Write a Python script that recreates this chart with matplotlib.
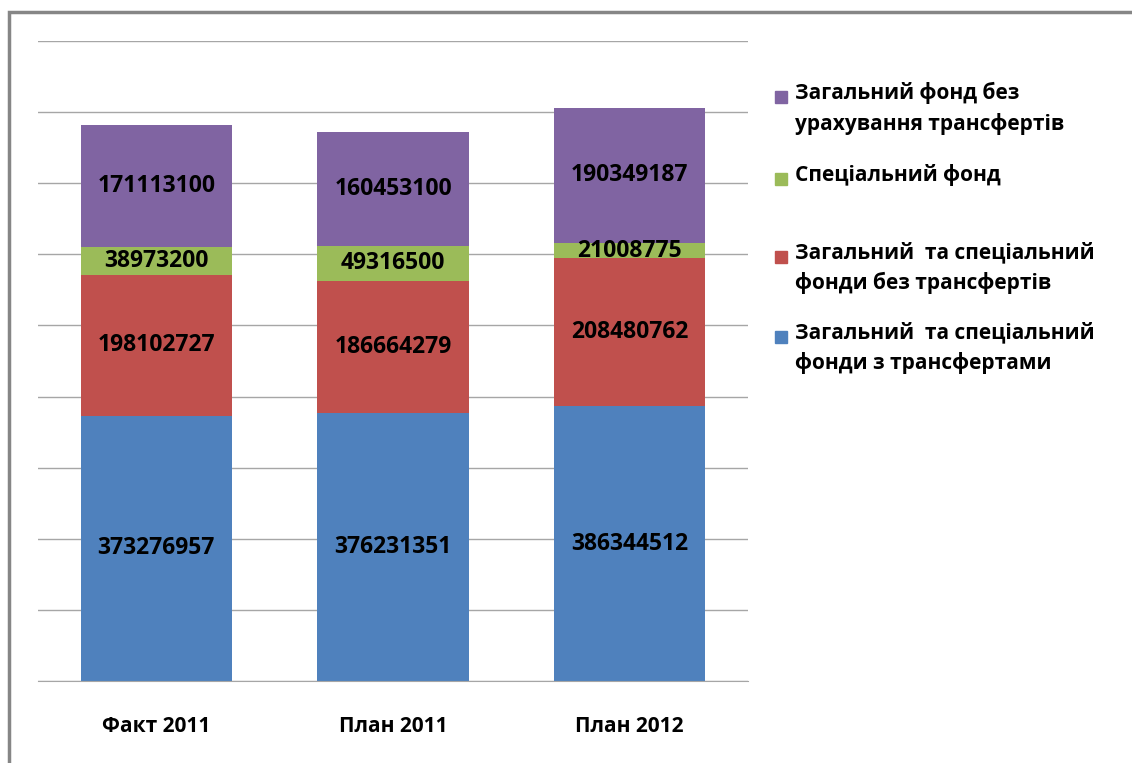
import numpy as np
import matplotlib
matplotlib.use("Agg")
import matplotlib.pyplot as plt
from matplotlib.patches import Rectangle

categories = ["Факт 2011", "План 2011", "План 2012"]
with_transfers = [373276957, 376231351, 386344512]
without_transfers = [198102727, 186664279, 208480762]
special_fund = [38973200, 49316500, 21008775]
general_fund = [171113100, 160453100, 190349187]

series = [with_transfers, without_transfers, special_fund, general_fund]
colors = ["#4f81bd", "#c0504d", "#9bbb59", "#8064a2"]
legend_labels = [
    "Загальний фонд без\nурахування трансфертів",
    "Спеціальний фонд",
    "Загальний  та спеціальний\nфонди без трансфертів",
    "Загальний  та спеціальний\nфонди з трансфертами",
]
legend_colors = ["#8064a2", "#9bbb59", "#c0504d", "#4f81bd"]

plt.rcParams['font.family'] = ['Open Sans', 'DejaVu Sans']

fig = plt.figure(figsize=(11.32, 7.63), dpi=100)
W, H = 1132, 763
ax = fig.add_axes([38 / W, 1 - 681 / H, 710 / W, 640 / H])

x = np.arange(len(categories))
bottom = np.zeros(len(categories))
for vals, c in zip(series, colors):
    vals = np.array(vals, dtype=float)
    ax.bar(x, vals, 0.64, bottom=bottom, color=c, zorder=2)
    for xi, b, v in zip(x, bottom, vals):
        ax.text(xi, b + v / 2, str(int(v)), ha="center", va="center",
                fontsize=16.5, fontweight="bold", color="black", zorder=3)
    bottom += vals

ax.set_xlim(-0.5, 2.5)
ax.set_ylim(0, 900000000)
ax.set_yticks(np.arange(0, 900000001, 100000000))
ax.yaxis.grid(True, color="#a6a6a6", lw=1, zorder=0)
ax.tick_params(axis="y", left=False, labelleft=False)
ax.tick_params(axis="x", bottom=False, pad=22)
ax.set_xticks(x)
ax.set_xticklabels(categories, fontsize=15, fontweight="bold")
for s in ["top", "right", "left"]:
    ax.spines[s].set_visible(False)
ax.spines["bottom"].set_color("#a6a6a6")

# chart border
fig.add_artist(Rectangle((9 / W, -0.1), 1.2, 1 - 12 / H + 0.1,
                         transform=fig.transFigure, fill=False,
                         edgecolor="#868686", lw=2.5))

# legend
legend_y = [97, 179, 257, 337]
for lab, c, yy in zip(legend_labels, legend_colors, legend_y):
    fig.add_artist(Rectangle((775 / W, 1 - (yy + 6) / H), 12 / W, 12 / H,
                             transform=fig.transFigure, color=c))
    fig.text(795 / W, 1 - (yy - 15) / H, lab, fontsize=15,
             fontweight="bold", va="top", ha="left", linespacing=1.5)

fig.savefig("out.png", dpi=100)
